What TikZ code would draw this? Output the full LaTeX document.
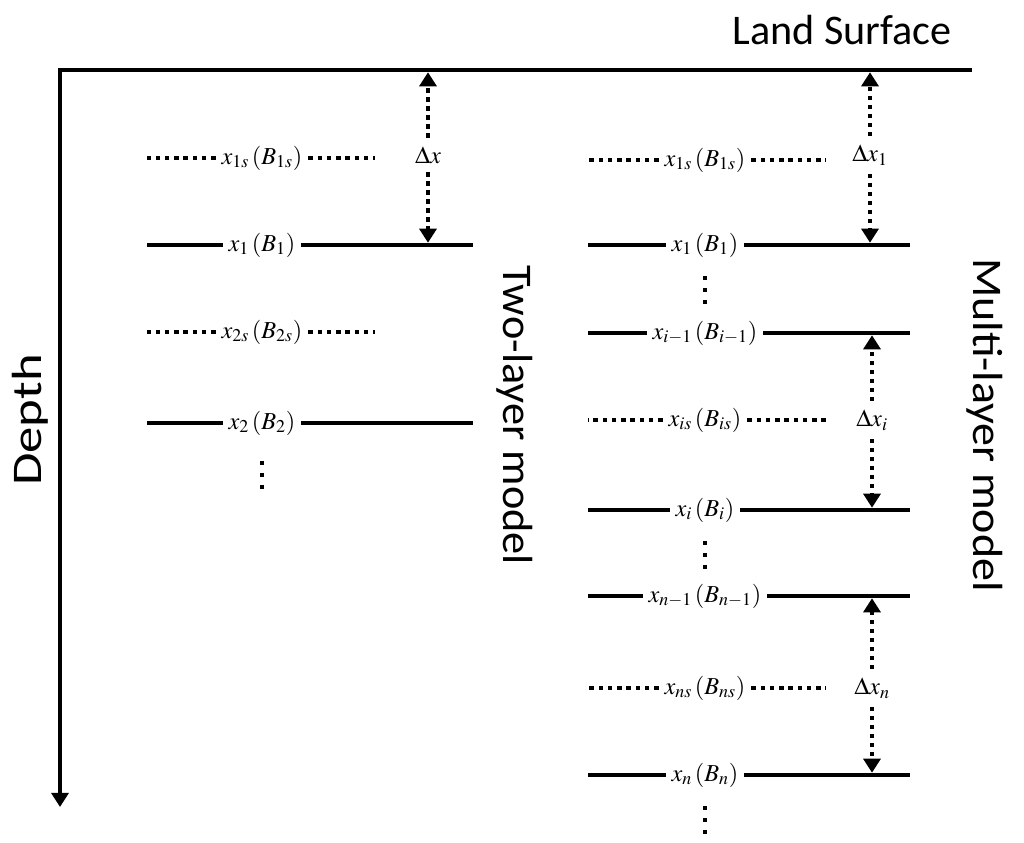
\documentclass[tikz,border=0pt]{standalone}
\usepackage{mathptmx}
\usepackage[no-math]{fontspec}
\setsansfont{Carlito}
\usetikzlibrary{arrows.meta}

\begin{document}
\begin{tikzpicture}[
    x=0.025cm,y=-0.025cm,
    >={Triangle[width=12pt,length=10pt]},
    surface/.style={line width=3.5pt,line join=miter},
    layer/.style={line width=3.5pt},
    sublayer/.style={line width=3.2pt,dash pattern=on 3.2pt off 3.4pt},
    vdots/.style={line width=3pt,dash pattern=on 3pt off 5.5pt},
    gap/.style={->,line width=3.2pt,dash pattern=on 3.2pt off 3.2pt,
      shorten >=1.6pt},
    lab/.style={font=\fontsize{17.3}{20}\selectfont,inner sep=4pt},
    dlab/.style={font=\fontsize{17.3}{20}\selectfont,inner sep=6pt},
    title/.style={font=\sffamily\fontsize{30}{34}\selectfont}
  ]
    \useasboundingbox (0,0) rectangle (1024,842);

    % land surface and depth axis
    \coordinate (surfL) at (60,70);
    \coordinate (surfR) at (972,70);
    \coordinate (depthEnd) at (60,807);
    \draw[surface,->] (surfR) -- (surfL) -- (depthEnd);
    \node[title] (land) at (842,30) {Land Surface};
    \node[title,rotate=90] (depth) at (30,420) {\scalebox{1.25}[1]{Depth}};

    % column edges
    \coordinate (twoL) at (147,0);
    \coordinate (twoR) at (473,0);
    \coordinate (twoRd) at (375,0);
    \coordinate (multiL) at (588,0);
    \coordinate (multiR) at (910,0);
    \coordinate (multiRd) at (826,0);

    % two-layer model
    \node[lab] (s1) at (262,158) {$x_{1s}\left(B_{1s}\right)$};
    \node[lab] (t1) at (262,245) {$x_{1}\left(B_{1}\right)$};
    \node[lab] (s2) at (262,332) {$x_{2s}\left(B_{2s}\right)$};
    \node[lab] (t2) at (262,423) {$x_{2}\left(B_{2}\right)$};
    \foreach \n in {s1,s2} {
      \draw[sublayer] (\n.west) -- (\n -| twoL);
      \draw[sublayer] (\n.east) -- (\n -| twoRd);
    }
    \foreach \n in {t1,t2} {
      \draw[layer] (\n.west) -- (\n -| twoL);
      \draw[layer] (\n.east) -- (\n -| twoR);
    }
    \draw[vdots] (t2.center) ++(0,38) -- ++(0,28);
    \node[dlab] (dx) at (428,155) {$\Delta x$};
    \draw[gap] (dx.north) -- (dx |- surfL);
    \draw[gap] (dx.south) -- (dx |- t1);
    \node[title,rotate=-90] (two) at (515,415)
      {\scalebox{1.05}[1]{Two-layer model}};

    % multi-layer model
    \node[lab] (ms1) at (705,160) {$x_{1s}\left(B_{1s}\right)$};
    \node[lab] (m1) at (705,245) {$x_{1}\left(B_{1}\right)$};
    \node[lab] (mim) at (705,333) {$x_{i-1}\left(B_{i-1}\right)$};
    \node[lab] (mis) at (705,420) {$x_{is}\left(B_{is}\right)$};
    \node[lab] (mi) at (705,510) {$x_{i}\left(B_{i}\right)$};
    \node[lab] (mnm) at (705,596) {$x_{n-1}\left(B_{n-1}\right)$};
    \node[lab] (mns) at (705,688) {$x_{ns}\left(B_{ns}\right)$};
    \node[lab] (mn) at (705,775) {$x_{n}\left(B_{n}\right)$};
    \foreach \n in {ms1,mis,mns} {
      \draw[sublayer] (\n.west) -- (\n -| multiL);
      \draw[sublayer] (\n.east) -- (\n -| multiRd);
    }
    \foreach \n in {m1,mim,mi,mnm,mn} {
      \draw[layer] (\n.west) -- (\n -| multiL);
      \draw[layer] (\n.east) -- (\n -| multiR);
    }
    \foreach \n in {m1,mi,mn}
      \draw[vdots] (\n.center) ++(0,31) -- ++(0,28);

    \node[dlab] (dx1) at (870,155) {$\Delta x_{1}$};
    \draw[gap] (dx1.north) -- (dx1 |- surfL);
    \draw[gap] (dx1.south) -- (dx1 |- m1);
    \node[dlab] (dxi) at (872,420) {$\Delta x_{i}$};
    \draw[gap] (dxi.north) -- (dxi |- mim);
    \draw[gap] (dxi.south) -- (dxi |- mi);
    \node[dlab] (dxn) at (872,688) {$\Delta x_{n}$};
    \draw[gap] (dxn.north) -- (dxn |- mnm);
    \draw[gap] (dxn.south) -- (dxn |- mn);
    \node[title,rotate=-90] (multi) at (985,425)
      {\scalebox{1.09}[1]{Multi-layer model}};
  \end{tikzpicture}
\end{document}
